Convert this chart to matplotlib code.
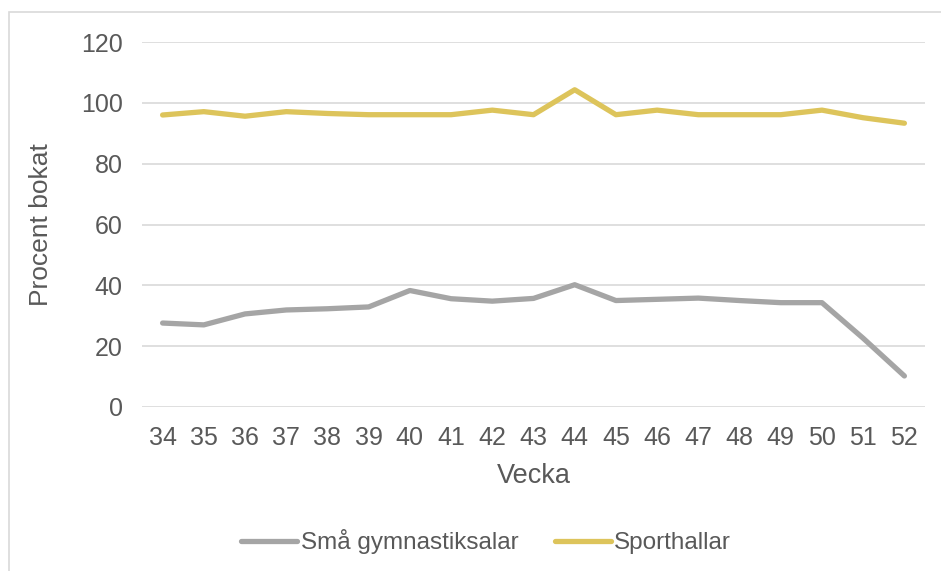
import matplotlib

matplotlib.use("Agg")
import matplotlib.pyplot as plt
from matplotlib.patches import Rectangle

# week numbers and booked percentage per hall type
weeks = ["34", "35", "36", "37", "38", "39", "40", "41", "42", "43",
         "44", "45", "46", "47", "48", "49", "50", "51", "52"]
sma_gymnastiksalar = [27.6, 27.0, 30.6, 31.9, 32.3, 32.9, 38.3, 35.6, 34.8, 35.7,
                      40.2, 35.0, 35.4, 35.8, 35.0, 34.3, 34.3, 22.6, 10.2]
sporthallar = [96.0, 97.1, 95.6, 97.1, 96.5, 96.1, 96.1, 96.1, 97.6, 96.1,
               104.3, 96.1, 97.6, 96.1, 96.1, 96.1, 97.6, 95.1, 93.3]

TEXT = "#595959"
GRID = "#D9D9D9"

plt.rcParams["font.family"] = ["Liberation Sans", "DejaVu Sans"]

fig = plt.figure(figsize=(9.41, 5.71), dpi=100)
fig.patches.append(Rectangle((8.5 / 941, -0.1), 1.2, (571 - 12) / 571 + 0.1,
                             transform=fig.transFigure, fill=False,
                             edgecolor=GRID, linewidth=1.2))

ax = fig.add_axes([142 / 941, (571 - 407) / 571, 783 / 941, 365 / 571])
x = range(len(weeks))
ax.plot(x, sma_gymnastiksalar, color="#A5A5A5", lw=3.8,
        solid_capstyle="round", solid_joinstyle="round", label="Små gymnastiksalar")
ax.plot(x, sporthallar, color="#DDC45B", lw=3.8,
        solid_capstyle="round", solid_joinstyle="round", label="Sporthallar")

ax.set_xlim(-0.5, len(weeks) - 0.5)
ax.set_ylim(0, 120)
ax.set_yticks(range(0, 121, 20))
ax.set_xticks(list(x))
ax.set_xticklabels(weeks)
ax.yaxis.grid(True, color=GRID, lw=1.2)
ax.set_axisbelow(True)
for spine in ax.spines.values():
    spine.set_visible(False)
ax.tick_params(length=0, labelsize=18, colors=TEXT)
ax.tick_params(axis="x", pad=14)
ax.tick_params(axis="y", pad=14)
ax.set_xlabel("Vecka", fontsize=19.5, color=TEXT, labelpad=9)
ax.set_ylabel("Procent bokat", fontsize=19, color=TEXT, labelpad=20)

fig.legend(loc="center", bbox_to_anchor=(486 / 941, (571 - 542) / 571), ncol=2,
           frameon=False, fontsize=17.5, handlelength=2.3, handletextpad=0.15,
           columnspacing=1.5, labelcolor=TEXT)

fig.savefig("out.png", dpi=100)
